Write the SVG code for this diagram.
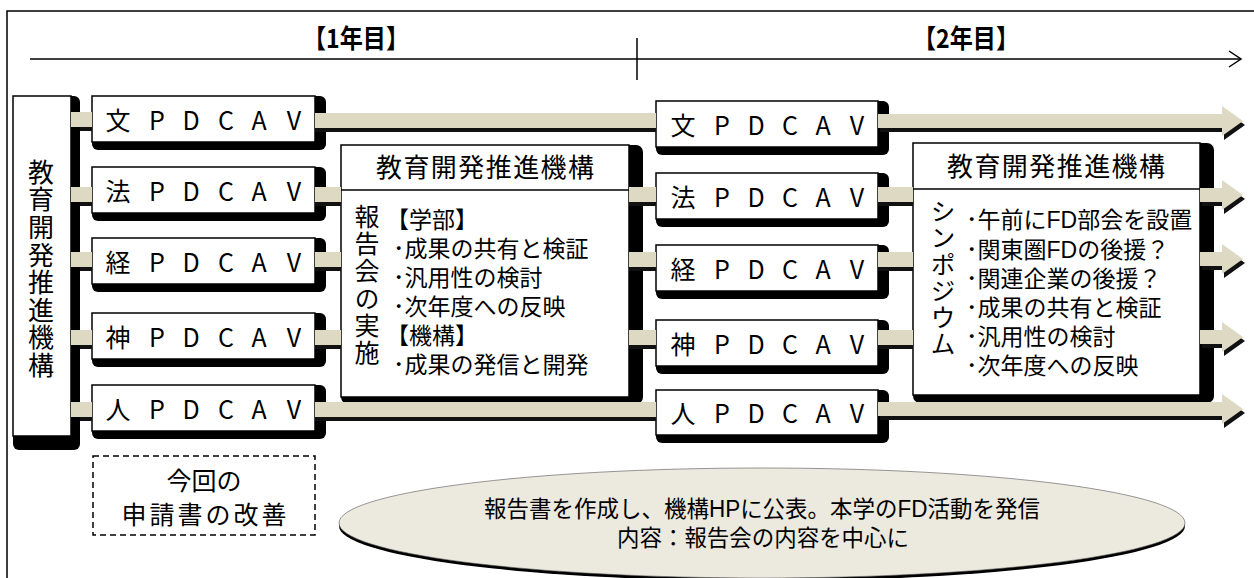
<svg xmlns="http://www.w3.org/2000/svg" width="1254" height="578" viewBox="0 0 1254 578">
<style>
.t{font-family:"Noto Sans CJK JP","Noto Sans",sans-serif;fill:#000}
.m{font-family:"Liberation Sans","Noto Sans CJK JP",sans-serif;fill:#000}
.sh{fill:#000}
.bx{fill:#fff;stroke:#000;stroke-width:1.5}
.bar{fill:#DDD9C3}
.bsh{fill:#111}
.ln{stroke:#000;stroke-width:1.5;fill:none}
.pd{font-size:25px}
.hd{font-size:26px}
.ls{font-size:23px}
.vt{writing-mode:vertical-rl;text-orientation:upright}
</style>
<rect width="1254" height="578" fill="#fff"/>
<path class="ln" d="M7,578 V11 H1254"/>
<g id="timeline">
<line class="ln" x1="30" y1="59" x2="1241" y2="59"/>
<polyline class="ln" points="1229,51 1241,59 1229,67"/>
<line class="ln" x1="637" y1="38" x2="637" y2="80"/>
<text class="t" x="356" y="48" font-size="26" font-weight="bold" text-anchor="middle" textLength="106" lengthAdjust="spacingAndGlyphs">【1年目】</text>
<text class="t" x="966" y="48" font-size="26" font-weight="bold" text-anchor="middle" textLength="106" lengthAdjust="spacingAndGlyphs">【2年目】</text>
</g>
<g id="org-left">
<rect class="sh" x="13" y="96" width="67" height="354" rx="6"/>
<rect class="bx" x="13" y="96" width="58" height="340"/>
<text class="t vt" font-size="26" letter-spacing="1.6" x="41" y="159">教育開発推進機構</text>
</g>
<g id="L-bun"><rect class="sh" x="92" y="96" width="234" height="54" rx="6"/><rect class="bx" x="92" y="96" width="223" height="46"/><text class="t pd" text-anchor="middle" x="118 157 191 226 259 294" y="130">文PDCAV</text></g>
<g id="L-hou"><rect class="sh" x="92" y="167" width="234" height="54" rx="6"/><rect class="bx" x="92" y="167" width="223" height="46"/><text class="t pd" text-anchor="middle" x="118 157 191 226 259 294" y="201">法PDCAV</text></g>
<g id="L-kei"><rect class="sh" x="92" y="238" width="234" height="54" rx="6"/><rect class="bx" x="92" y="238" width="223" height="46"/><text class="t pd" text-anchor="middle" x="118 157 191 226 259 294" y="272">経PDCAV</text></g>
<g id="L-shin"><rect class="sh" x="92" y="313" width="234" height="54" rx="6"/><rect class="bx" x="92" y="313" width="223" height="46"/><text class="t pd" text-anchor="middle" x="118 157 191 226 259 294" y="347">神PDCAV</text></g>
<g id="L-jin"><rect class="sh" x="92" y="385" width="234" height="54" rx="6"/><rect class="bx" x="92" y="385" width="223" height="46"/><text class="t pd" text-anchor="middle" x="118 157 191 226 259 294" y="419">人PDCAV</text></g>
<g id="R-bun"><rect class="sh" x="656" y="101" width="233" height="54" rx="6"/><rect class="bx" x="656" y="101" width="222" height="46"/><text class="t pd" text-anchor="middle" x="683 722 756 790 823 857" y="135">文PDCAV</text></g>
<g id="R-hou"><rect class="sh" x="656" y="173" width="233" height="54" rx="6"/><rect class="bx" x="656" y="173" width="222" height="46"/><text class="t pd" text-anchor="middle" x="683 722 756 790 823 857" y="207">法PDCAV</text></g>
<g id="R-kei"><rect class="sh" x="656" y="245" width="233" height="54" rx="6"/><rect class="bx" x="656" y="245" width="222" height="46"/><text class="t pd" text-anchor="middle" x="683 722 756 790 823 857" y="279">経PDCAV</text></g>
<g id="R-shin"><rect class="sh" x="656" y="320" width="233" height="54" rx="6"/><rect class="bx" x="656" y="320" width="222" height="46"/><text class="t pd" text-anchor="middle" x="683 722 756 790 823 857" y="354">神PDCAV</text></g>
<g id="R-jin"><rect class="sh" x="656" y="390" width="233" height="53" rx="6"/><rect class="bx" x="656" y="390" width="222" height="45"/><text class="t pd" text-anchor="middle" x="683 722 756 790 823 857" y="423">人PDCAV</text></g>
<g id="org-report">
<rect class="sh" x="341" y="145" width="302" height="259" rx="7"/>
<rect class="bx" x="341" y="145" width="288" height="252"/>
<line class="ln" x1="341" y1="190" x2="629" y2="190"/>
<text class="t hd" x="485" y="177" text-anchor="middle" textLength="218" lengthAdjust="spacing">教育開発推進機構</text>
<text class="t vt" font-size="25" letter-spacing="2.4" x="367" y="203.5">報告会の実施</text>
<text class="m ls"><tspan x="386" y="228">【学部】</tspan><tspan x="393" y="257">･成果の共有と検証</tspan><tspan x="393" y="286">･汎用性の検討</tspan><tspan x="393" y="315">･次年度への反映</tspan><tspan x="386" y="344">【機構】</tspan><tspan x="393" y="373">･成果の発信と開発</tspan></text>
</g>
<g id="org-symposium">
<rect class="sh" x="913" y="143" width="301" height="260" rx="7"/>
<rect class="bx" x="913" y="143" width="287" height="252"/>
<line class="ln" x1="913" y1="189" x2="1200" y2="189"/>
<text class="t hd" x="1056" y="176" text-anchor="middle" textLength="218" lengthAdjust="spacing">教育開発推進機構</text>
<text class="t vt" font-size="25" letter-spacing="1.6" x="943" y="198.5">シンポジウム</text>
<text class="m ls"><tspan x="966" y="228">･午前にFD部会を設置</tspan><tspan x="966" y="258">･関東圏FDの後援？</tspan><tspan x="966" y="287">･関連企業の後援？</tspan><tspan x="966" y="316">･成果の共有と検証</tspan><tspan x="966" y="345">･汎用性の検討</tspan><tspan x="966" y="374">･次年度への反映</tspan></text>
</g>
<g id="note">
<rect x="93" y="456" width="222" height="79" fill="#fff" stroke="#000" stroke-width="1.5" stroke-dasharray="6,4"/>
<text class="m" font-size="25" text-anchor="middle"><tspan x="204" y="490">今回の</tspan><tspan x="204" y="524" textLength="165" lengthAdjust="spacing">申請書の改善</tspan></text>
</g>
<g id="publish">
<ellipse cx="762" cy="526" rx="423" ry="55" fill="#000"/>
<ellipse cx="762" cy="523" rx="423" ry="55" fill="#ECE9DF" stroke="#555" stroke-width="0.6"/>
<text class="m" font-size="23" text-anchor="middle"><tspan x="762" y="517" textLength="556" lengthAdjust="spacingAndGlyphs">報告書を作成し、機構HPに公表。本学のFD活動を発信</tspan><tspan x="763" y="546" textLength="292" lengthAdjust="spacingAndGlyphs">内容：報告会の内容を中心に</tspan></text>
</g>
<g id="connectors">
<g transform="translate(0,4)" class="bsh">
<rect x="80" y="112" width="12" height="15"/><rect x="80" y="187" width="12" height="15"/><rect x="80" y="252" width="12" height="15"/><rect x="80" y="330" width="12" height="15"/><rect x="80" y="402" width="12" height="15"/>
<rect x="315" y="113" width="341" height="15"/>
<rect x="315" y="187" width="26" height="15"/><rect x="629" y="187" width="27" height="15"/><rect x="878" y="187" width="35" height="15"/>
<rect x="315" y="252" width="26" height="15"/><rect x="629" y="252" width="27" height="15"/><rect x="878" y="252" width="35" height="15"/>
<rect x="315" y="330" width="26" height="15"/><rect x="629" y="330" width="27" height="15"/><rect x="878" y="330" width="35" height="15"/>
<rect x="315" y="402" width="341" height="15"/>
</g>
<g class="bar">
<rect x="71" y="112" width="21" height="15"/><rect x="71" y="187" width="21" height="15"/><rect x="71" y="252" width="21" height="15"/><rect x="71" y="330" width="21" height="15"/><rect x="71" y="402" width="21" height="15"/>
<rect x="315" y="113" width="341" height="15"/>
<rect x="315" y="187" width="26" height="15"/><rect x="629" y="187" width="27" height="15"/><rect x="878" y="187" width="35" height="15"/>
<rect x="315" y="252" width="26" height="15"/><rect x="629" y="252" width="27" height="15"/><rect x="878" y="252" width="35" height="15"/>
<rect x="315" y="330" width="26" height="15"/><rect x="629" y="330" width="27" height="15"/><rect x="878" y="330" width="35" height="15"/>
<rect x="315" y="402" width="341" height="15"/>
</g>
<g transform="translate(2,4)" class="bsh">
<polygon points="878,114 1222,114 1222,106 1243,121 1222,136 1222,128 878,128"/>
<polygon points="1200,188 1222,188 1222,180 1243,195 1222,210 1222,202 1200,202"/>
<polygon points="1200,252 1222,252 1222,244 1243,259 1222,274 1222,266 1200,266"/>
<polygon points="1200,330 1222,330 1222,322 1243,337 1222,352 1222,344 1200,344"/>
<polygon points="878,402 1222,402 1222,394 1243,409 1222,424 1222,416 878,416"/>
</g>
<g class="bar">
<polygon points="878,114 1222,114 1222,106 1243,121 1222,136 1222,128 878,128"/>
<polygon points="1200,188 1222,188 1222,180 1243,195 1222,210 1222,202 1200,202"/>
<polygon points="1200,252 1222,252 1222,244 1243,259 1222,274 1222,266 1200,266"/>
<polygon points="1200,330 1222,330 1222,322 1243,337 1222,352 1222,344 1200,344"/>
<polygon points="878,402 1222,402 1222,394 1243,409 1222,424 1222,416 878,416"/>
</g>
</g>
</svg>
